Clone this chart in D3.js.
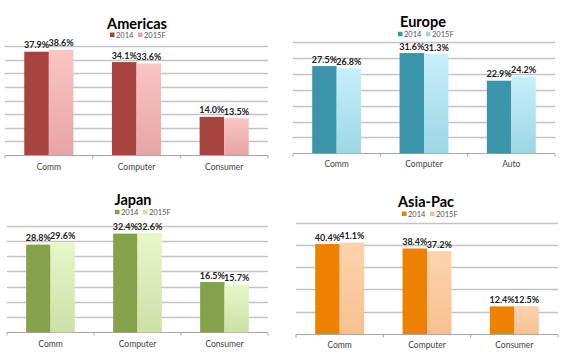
<!DOCTYPE html>
<html><head><meta charset="utf-8">
<script src="https://cdn.jsdelivr.net/npm/d3@7"></script>
<style>body{margin:0;background:#fff;}svg{display:block;}</style>
</head><body>
<script>
// ---- data ----
const americasCategories = ["Comm", "Computer", "Consumer"];
const americas2014 = [37.9, 34.1, 14.0];
const americas2015F = [38.6, 33.6, 13.5];

const europeCategories = ["Comm", "Computer", "Auto"];
const europe2014 = [27.5, 31.6, 22.9];
const europe2015F = [26.8, 31.3, 24.2];

const japanCategories = ["Comm", "Computer", "Consumer"];
const japan2014 = [28.8, 32.4, 16.5];
const japan2015F = [29.6, 32.6, 15.7];

const asiaCategories = ["Comm", "Computer", "Consumer"];
const asia2014 = [40.4, 38.4, 12.4];
const asia2015F = [41.1, 37.2, 12.5];

const seriesNames = ["2014", "2015F"];
const titles = ["Americas", "Europe", "Japan", "Asia-Pac"];
const yMaxes = [40, 35, 35, 50];
const ySteps = [5, 5, 5, 10];

// ---- layout / style ----
const W = 566, H = 361;
const svg = d3.select("body").append("svg").attr("width", W).attr("height", H);
const defs = svg.append("defs");
const font = "Lato, 'Open Sans', sans-serif";

const panels = [
  {title: titles[0], cats: americasCategories, a: americas2014, b: americas2015F, yMax: yMaxes[0], step: ySteps[0],
   x0: 5, x1: 268, yTop: 46, yBase: 155, titleX: 137, titleY: 29, legX: 110, legY: 35, labY: 170,
   c1: "#a6433f", g1: "#fac5c3", g2: "#e6a5a4"},
  {title: titles[1], cats: europeCategories, a: europe2014, b: europe2015F, yMax: yMaxes[1], step: ySteps[1],
   x0: 293, x1: 555, yTop: 42.3, yBase: 153.3, titleX: 423, titleY: 27, legX: 398, legY: 34.3, labY: 167,
   c1: "#3b95aa", g1: "#c6f0fb", g2: "#9cd6e5"},
  {title: titles[2], cats: japanCategories, a: japan2014, b: japan2015F, yMax: yMaxes[2], step: ySteps[2],
   x0: 7, x1: 268, yTop: 225.7, yBase: 332.3, titleX: 133, titleY: 205, legX: 115, legY: 212.3, labY: 347,
   c1: "#85a24a", g1: "#e8f6c9", g2: "#cde0a6"},
  {title: titles[3], cats: asiaCategories, a: asia2014, b: asia2015F, yMax: yMaxes[3], step: ySteps[3],
   x0: 296, x1: 558, yTop: 222.7, yBase: 334, titleX: 426, titleY: 207, legX: 402, legY: 214, labY: 348,
   c1: "#ec8200", g1: "#fdd3ad", g2: "#f8c08f"}
];

panels.forEach((p, i) => {
  const gid = "grad" + i;
  const lg = defs.append("linearGradient").attr("id", gid).attr("x1", 0).attr("y1", 0).attr("x2", 0).attr("y2", 1);
  lg.append("stop").attr("offset", "0%").attr("stop-color", p.g1);
  lg.append("stop").attr("offset", "100%").attr("stop-color", p.g2);

  const g = svg.append("g");
  const x = d3.scaleBand().domain(p.cats).range([p.x0, p.x1]).paddingInner(0.44).paddingOuter(0.22);
  const xs = d3.scaleBand().domain(seriesNames).range([0, x.bandwidth()]);
  const y = d3.scaleLinear().domain([0, p.yMax]).range([p.yBase, p.yTop]);

  // gridlines
  const ticks = d3.range(p.step, p.yMax + 0.001, p.step);
  g.selectAll(".grid").data(ticks).enter().append("line")
    .attr("x1", p.x0).attr("x2", p.x1)
    .attr("y1", d => Math.round(y(d)) + 0.5).attr("y2", d => Math.round(y(d)) + 0.5)
    .attr("stroke", "#c4c4c4").attr("stroke-width", 1.3);

  // x axis
  const ax = g.append("g").attr("transform", `translate(0,${Math.round(p.yBase) + 0.5})`);
  ax.append("line").attr("x1", p.x0).attr("x2", p.x1).attr("stroke", "#a8a8a8").attr("stroke-width", 1.2);
  const bounds = [p.x0].concat(p.cats.map(c => x(c) - x.step() * 0.22 + x.step()));
  ax.selectAll(".tk").data(bounds).enter().append("line")
    .attr("x1", d => d).attr("x2", d => d).attr("y1", 0).attr("y2", 3)
    .attr("stroke", "#a8a8a8");
  g.selectAll(".cat").data(p.cats).enter().append("text")
    .attr("x", d => x(d) + x.bandwidth() / 2).attr("y", p.labY)
    .attr("text-anchor", "middle").attr("font-family", font).attr("font-size", 8.5)
    .attr("fill", "#444").text(d => d);

  // bars
  const rows = p.cats.map((c, j) => ({c, vals: [p.a[j], p.b[j]]}));
  rows.forEach(r => {
    r.vals.forEach((v, k) => {
      const bx = x(r.c) + xs(seriesNames[k]);
      g.append("rect").attr("x", bx).attr("y", y(v)).attr("width", xs.bandwidth())
        .attr("height", y(0) - y(v))
        .attr("fill", k === 0 ? p.c1 : `url(#${gid})`);
      g.append("text").attr("x", bx + xs.bandwidth() / 2).attr("y", y(v) - 3.5)
        .attr("text-anchor", "middle").attr("font-family", font).attr("font-weight", "bold")
        .attr("font-size", 9).attr("fill", "#222").text(v.toFixed(1) + "%");
    });
  });

  // title
  g.append("text").attr("x", p.titleX).attr("y", p.titleY).attr("text-anchor", "middle")
    .attr("font-family", font).attr("font-weight", "bold").attr("font-size", 14.5)
    .attr("fill", "#000").text(p.title);

  // legend
  seriesNames.forEach((s, k) => {
    const lx = p.legX + k * 28;
    g.append("rect").attr("x", lx).attr("y", p.legY - 2.5).attr("width", 4.5).attr("height", 4.5)
      .attr("fill", k === 0 ? p.c1 : p.g2);
    g.append("text").attr("x", lx + 6).attr("y", p.legY + 2.5).attr("font-family", font)
      .attr("font-size", 7.5).attr("fill", "#555").text(s);
  });
});
</script>
</body></html>
